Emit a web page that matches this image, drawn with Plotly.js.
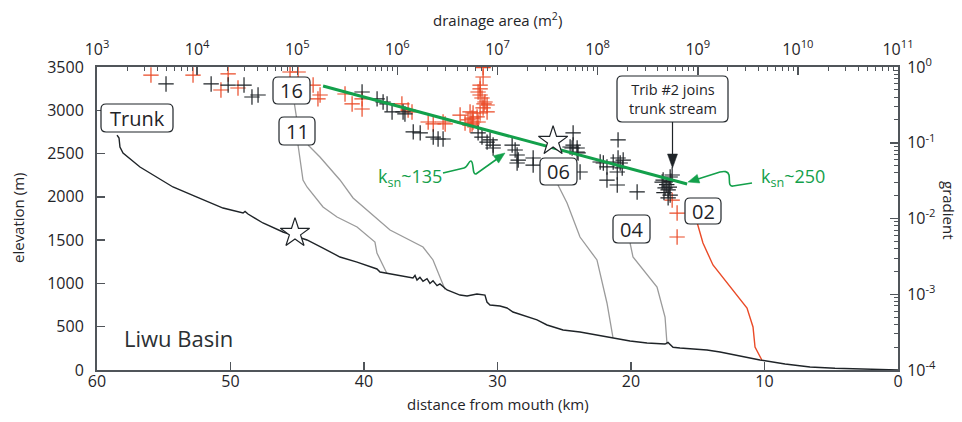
<!DOCTYPE html>
<html>
<head>
<meta charset="utf-8">
<script src="https://cdn.plot.ly/plotly-3.0.1.min.js"></script>
<style>html,body{margin:0;padding:0;background:#fff;} #chart{width:962px;height:422px;}</style>
</head>
<body>
<div id="chart"></div>
<script>
// ---- Long profiles: distance from mouth (km) vs elevation (m) ----
const trunkDist = [58.50,58.35,58.28,58.05,56.78,55.51,54.31,52.51,50.56,49.06,48.91,48.69,47.57,46.07,45.17,44.27,43.07,41.80,40.52,39.03,38.80,37.53,36.78,36.33,36.18,36.03,35.81,35.58,35.28,35.06,34.83,34.53,34.31,33.78,32.81,32.28,31.54,30.94,30.79,30.56,29.81,29.29,28.84,28.09,27.04,26.29,25.09,23.82,22.55,21.35,20.07,18.80,17.45,17.23,16.85,16.33,14.31,13.33,10.34,8.46,6.59,4.72,2.85,0];
const trunkElev = [2714,2680,2576,2506,2345,2229,2114,1998,1871,1813,1832,1802,1698,1594,1548,1502,1409,1305,1247,1167,1132,1097,1074,1063,1092,1040,1070,1025,1055,1000,1030,975,995,924,866,855,878,866,785,751,739,716,670,635,578,520,462,439,404,370,335,312,300,318,262,254,231,208,116,69,35,20,12,0];

const trib16Dist = [45.21,45.06,44.94,44.57,44.27,43.07,42.02,40.52,39.18,39.03,38.28];
const trib16Elev = [3072,2922,2599,2195,2114,1883,1767,1652,1478,1351,1115];

const trib11Dist = [44.19,43.30,41.80,40.82,38.05,36.55,35.58,34.83,34.31,33.93];
const trib11Elev = [2599,2460,2195,1987,1617,1502,1421,1271,1074,930];

const trib06Dist = [25.47,24.79,23.82,22.55,21.80,21.35];
const trib06Elev = [2137,1929,1536,1271,774,375];

const trib04Dist = [20.07,19.85,18.05,17.45,17.30];
const trib04Elev = [1467,1305,959,612,295];

const trib02Dist = [15.06,14.61,13.86,12.81,11.31,10.86,10.71,10.19];
const trib02Elev = [1709,1467,1213,1005,716,497,266,112];

const knickDist = [45.17];
const knickElev = [1582];

// ---- Slope-area data: drainage area (m^2) vs gradient ----
const redArea = [3.46e3,9.1e3,2.04e4,1.73e4,2.56e4,8.47e4,1.02e5,1.44e5,1.69e5,1.61e5,3.0e5,3.53e5,4.44e5,4.44e5,1.11e6,1.28e6,1.40e6,2.03e6,2.28e6,2.86e6,3.0e6,4.23e6,5.08e6,5.32e6,5.57e6,6.4e6,6.25e6,7.18e6,7.18e6,6.7e6,6.4e6,6.7e6,7.0e6,7.5e6,7.87e6,7.18e6,7.87e6,6.7e6,5.7e6,5.57e6,4.74e6,5.32e6,5.7e6,6.7e6,7.34e6,5.55e8,6.22e8,6.22e8];
const redGrad = [0.783,0.783,0.81,0.497,0.528,0.859,0.859,0.578,0.427,0.379,0.44,0.325,0.379,0.279,0.325,0.27,0.255,0.188,0.177,0.188,0.177,0.232,0.2,0.255,0.177,0.188,0.219,0.98,0.738,0.578,0.468,0.427,0.39,0.345,0.315,0.288,0.255,0.247,0.247,0.212,0.182,0.171,0.188,0.513,0.325,0.0175,0.0118,0.0057];

const blackArea = [4.89e3,1.38e4,2.04e4,2.94e4,4.06e4,3.53e4,4.44e5,6.27e5,7.2e5,7.89e5,8.85e5,1.14e6,1.19e6,1.44e6,1.69e6,2.28e6,2.55e6,2.86e6,6.4e6,7.0e6,7.87e6,8.43e6,9.04e6,9.04e6,1.4e7,1.5e7,1.57e7,1.61e7,2.27e7,2.27e7,1.57e7,5.69e7,5.69e7,6.24e7,5.56e7,6.38e7,5.31e7,6.24e7,6.68e7,1.6e8,1.06e8,1.14e8,1.24e8,1.43e8,1.6e8,1.68e8,1.76e8,1.57e8,1.8e8,1.24e8,1.57e8,2.48e8,4.51e8,5.3e8,4.72e8,5.06e8,5.3e8,5.55e8,4.41e8,5.06e8,4.9e8,5.2e8,4.6e8,5.4e8];
const blackGrad = [0.597,0.597,0.578,0.578,0.427,0.402,0.468,0.379,0.345,0.325,0.255,0.255,0.24,0.139,0.135,0.119,0.112,0.112,0.135,0.119,0.102,0.109,0.0933,0.0853,0.0933,0.0802,0.0689,0.0591,0.0629,0.0508,0.054,0.135,0.0933,0.0853,0.0853,0.0733,0.0879,0.0755,0.0411,0.109,0.0557,0.054,0.0479,0.0557,0.0629,0.054,0.0465,0.0411,0.0591,0.0322,0.0277,0.0224,0.0322,0.0353,0.0253,0.0238,0.0204,0.0375,0.0303,0.0187,0.028,0.026,0.022,0.031];

const ksnArea = [1.81e5, 7.83e8];
const ksnGrad = [0.561, 0.0285];

const knickArea = [3.59e7];
const knickGrad = [0.105];

// axis tick labels
const distTicks = [60,50,40,30,20,10,0];
const elevTicks = [0,500,1000,1500,2000,2500,3000,3500];
const areaExp = [3,4,5,6,7,8,9,10,11];
const gradExp = [-4,-3,-2,-1,0];

// ---- styling ----
const DARK = '#1f2428', GRAY = '#9b9b9b', RED = '#ea4a27', GREEN = '#13a04b', AXIS = '#50555a';
const FONT = 'Open Sans, Noto Sans, sans-serif';

// pixel helpers for layout decorations (plot area 97..898 x 67..370)
const X = v => ((v - 97) / 801);
const Y = v => ((370 - v) / 303);
const f = v => v.toFixed(5);
function rr(x0, y0, x1, y1, r) {
  return `M${f(X(x0+r))},${f(Y(y0))} L${f(X(x1-r))},${f(Y(y0))} Q${f(X(x1))},${f(Y(y0))} ${f(X(x1))},${f(Y(y0+r))} L${f(X(x1))},${f(Y(y1-r))} Q${f(X(x1))},${f(Y(y1))} ${f(X(x1-r))},${f(Y(y1))} L${f(X(x0+r))},${f(Y(y1))} Q${f(X(x0))},${f(Y(y1))} ${f(X(x0))},${f(Y(y1-r))} L${f(X(x0))},${f(Y(y0+r))} Q${f(X(x0))},${f(Y(y0))} ${f(X(x0+r))},${f(Y(y0))} Z`;
}
function pth(cmds) {
  return cmds.map(c => c[0] + c.slice(1).reduce((a, v, i) => a + (i % 2 === 0 ? (i ? ' ' : '') + f(X(v)) : ',' + f(Y(v))), '')).join(' ');
}
function tri(p) { return pth([['M', p[0], p[1]], ['L', p[2], p[3]], ['L', p[4], p[5]]]) + ' Z'; }

const minorArea = [], minorGrad = [];
for (let e = 3; e < 11; e++) for (let k = 2; k <= 9; k++) minorArea.push(k * Math.pow(10, e));
for (let e = -4; e < 0; e++) for (let k = 2; k <= 9; k++) minorGrad.push(k * Math.pow(10, e));

const lineTrace = (x, y, color, w) => ({x, y, type: 'scatter', mode: 'lines', line: {color, width: w}, xaxis: 'x', yaxis: 'y', hoverinfo: 'skip'});

const traces = [
  lineTrace(trib16Dist, trib16Elev, GRAY, 1.3),
  lineTrace(trib11Dist, trib11Elev, GRAY, 1.3),
  lineTrace(trib06Dist, trib06Elev, GRAY, 1.3),
  lineTrace(trib04Dist, trib04Elev, GRAY, 1.3),
  lineTrace(trib02Dist, trib02Elev, RED, 1.4),
  lineTrace(trunkDist, trunkElev, DARK, 1.4),
  {x: knickDist, y: knickElev, type: 'scatter', mode: 'markers', xaxis: 'x', yaxis: 'y',
   marker: {symbol: 'star', size: 22, color: '#ffffff', line: {color: DARK, width: 1.2}}},
  {x: redArea, y: redGrad, type: 'scatter', mode: 'markers', xaxis: 'x2', yaxis: 'y2',
   marker: {symbol: 'cross-thin-open', size: 11, color: RED, line: {color: RED, width: 1.2}}},
  {x: blackArea, y: blackGrad, type: 'scatter', mode: 'markers', xaxis: 'x2', yaxis: 'y2',
   marker: {symbol: 'cross-thin-open', size: 11, color: DARK, line: {color: DARK, width: 1.2}}},
  {x: ksnArea, y: ksnGrad, type: 'scatter', mode: 'lines', xaxis: 'x2', yaxis: 'y2',
   line: {color: GREEN, width: 3}},
  {x: knickArea, y: knickGrad, type: 'scatter', mode: 'markers', xaxis: 'x2', yaxis: 'y2',
   marker: {symbol: 'star', size: 22, color: '#ffffff', line: {color: DARK, width: 1.2}}}
];

const boxes = [
  [101,104,173,132],[273,77,310,104],[279,117,315,145],[540,158,577,185],[613,215,650,243],[685,198,721,224],[617,76,728,122]
];
const shapes = boxes.map(b => ({type: 'path', xref: 'paper', yref: 'paper', path: rr(b[0], b[1], b[2], b[3], 5),
  fillcolor: '#ffffff', line: {color: DARK, width: 1.2}, layer: 'above'}));
shapes.push({type: 'path', xref: 'paper', yref: 'paper', layer: 'above', line: {color: GREEN, width: 1.6},
  path: pth([['M',443,173],['L',464,168],['C',468,167,469,160,471,161],['C',474,162,472,175,476,174],['L',497,159]])});
shapes.push({type: 'path', xref: 'paper', yref: 'paper', layer: 'above', line: {color: GREEN, width: 0.5}, fillcolor: GREEN,
  path: tri([505,153,498.6,163.1,493.4,155.7])});
shapes.push({type: 'path', xref: 'paper', yref: 'paper', layer: 'above', line: {color: GREEN, width: 1.6},
  path: pth([['M',752,183],['L',733,186],['C',728,187,730,180,729,175],['C',728,171,724,171,720,172],['L',698,179]])});
shapes.push({type: 'path', xref: 'paper', yref: 'paper', layer: 'above', line: {color: GREEN, width: 0.5}, fillcolor: GREEN,
  path: tri([688,182,699.8,183.0,697.2,174.4])});
shapes.push({type: 'path', xref: 'paper', yref: 'paper', layer: 'above', line: {color: DARK, width: 1.2},
  path: pth([['M',672.5,122],['L',672.5,158]])});
shapes.push({type: 'path', xref: 'paper', yref: 'paper', layer: 'above', line: {color: DARK, width: 0.5}, fillcolor: DARK,
  path: tri([667.5,154,677.5,154,672.5,168])});

const ann = (text, px, py, size, extra) => Object.assign({text, xref: 'paper', yref: 'paper', x: X(px), y: Y(py),
  showarrow: false, xanchor: 'center', yanchor: 'middle', font: {family: FONT, size, color: DARK}}, extra || {});

const annotations = [
  ann('Trunk', 137, 118, 20),
  ann('16', 291.5, 90.5, 20),
  ann('11', 297, 131, 20),
  ann('06', 558.5, 171.5, 20),
  ann('04', 631.5, 229, 20),
  ann('02', 703, 211, 20),
  ann('Trib #2 joins<br>trunk stream', 672.5, 99, 14.5),
  ann('Liwu Basin', 178, 338, 22, {font: {family: FONT, size: 22, color: '#2b3033'}}),
  ann('k<sub>sn</sub>~135', 444, 177, 18, {xanchor: 'right', font: {family: FONT, size: 18, color: GREEN}}),
  ann('k<sub>sn</sub>~250', 759, 177, 18, {xanchor: 'left', font: {family: FONT, size: 18, color: GREEN}}),
  ann('elevation (m)', 18, 218, 15, {textangle: -90}),
  ann('gradient', 949, 210, 15, {textangle: 90}),
  ann('distance from mouth (km)', 497.5, 404, 15),
  ann('drainage area (m<sup>2</sup>)', 497.5, 19, 15)
];

const tickFont = {family: FONT, size: 16, color: DARK};
const layout = {
  width: 962, height: 422,
  margin: {l: 97, r: 64, t: 67, b: 52, pad: 0},
  paper_bgcolor: '#ffffff', plot_bgcolor: '#ffffff',
  showlegend: false,
  font: {family: FONT, color: DARK},
  xaxis: {range: [60, 0], tickmode: 'array', tickvals: distTicks, ticktext: distTicks.map(String),
    ticks: 'inside', ticklen: 8, tickwidth: 1.5, tickcolor: AXIS, showline: true, linecolor: AXIS, linewidth: 2,
    showgrid: false, zeroline: false, tickfont: tickFont, ticklabelstandoff: -4},
  yaxis: {range: [0, 3500], tickmode: 'array', tickvals: elevTicks, ticktext: elevTicks.map(String),
    ticks: 'inside', ticklen: 8, tickwidth: 1.5, tickcolor: AXIS, showline: true, linecolor: AXIS, linewidth: 2,
    showgrid: false, zeroline: false, tickfont: tickFont, ticklabelstandoff: 8},
  xaxis2: {type: 'log', range: [3, 11], overlaying: 'x', side: 'top', anchor: 'y',
    tickmode: 'array', tickvals: areaExp.map(e => Math.pow(10, e)), ticktext: areaExp.map(e => '10<sup>' + e + '</sup>'),
    ticks: 'inside', ticklen: 8, tickwidth: 1.5, tickcolor: AXIS, showline: true, linecolor: AXIS, linewidth: 2,
    minor: {tickmode: 'array', tickvals: minorArea, ticks: 'inside', ticklen: 4, tickwidth: 1, tickcolor: AXIS, showgrid: false},
    showgrid: false, zeroline: false, tickfont: tickFont, ticklabelstandoff: 4},
  yaxis2: {type: 'log', range: [-4, 0], overlaying: 'y', side: 'right', anchor: 'x',
    tickmode: 'array', tickvals: gradExp.map(e => Math.pow(10, e)), ticktext: gradExp.map(e => '10<sup>' + (e < 0 ? '-' : '') + Math.abs(e) + '</sup>'),
    ticks: 'inside', ticklen: 8, tickwidth: 1.5, tickcolor: AXIS, showline: true, linecolor: AXIS, linewidth: 2,
    minor: {tickmode: 'array', tickvals: minorGrad, ticks: 'inside', ticklen: 4, tickwidth: 1, tickcolor: AXIS, showgrid: false},
    showgrid: false, zeroline: false, tickfont: tickFont, ticklabelstandoff: 4},
  shapes, annotations
};

Plotly.newPlot('chart', traces, layout, {staticPlot: true, displayModeBar: false});
</script>
</body>
</html>
